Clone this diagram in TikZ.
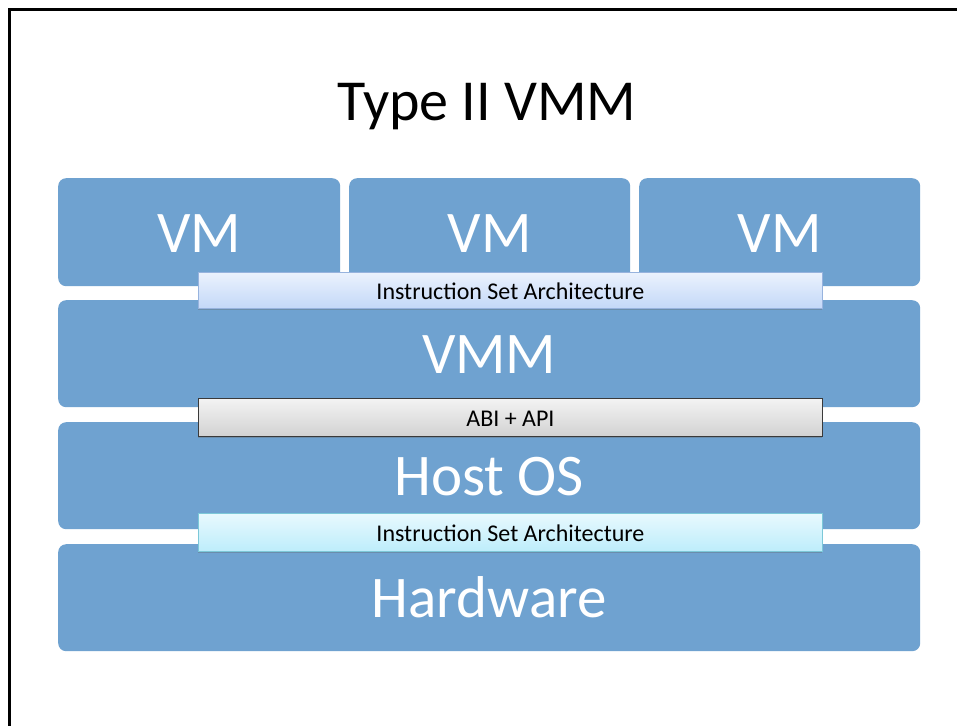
\documentclass[tikz,border=0pt]{standalone}
\usepackage{fontspec}
\setmainfont{Carlito}
\usetikzlibrary{shadows}
\definecolor{boxblue}{HTML}{6FA2D0}
\definecolor{isatop}{HTML}{EBF2FD}
\definecolor{isabot}{HTML}{C3D8F8}
\definecolor{isaline}{HTML}{97B3DE}
\definecolor{abitop}{HTML}{F3F3F3}
\definecolor{abibot}{HTML}{D2D2D2}
\definecolor{abiline}{HTML}{3A3A3A}
\definecolor{cyantop}{HTML}{E8F9FE}
\definecolor{cyanbot}{HTML}{BDEDFB}
\definecolor{cyanline}{HTML}{7CC8D8}
\tikzset{
  layer/.style={fill=boxblue, rounded corners=8pt, anchor=north west, inner sep=0pt,
    text=white, font=\fontsize{59}{64}\selectfont, text height=40pt, text depth=0pt},
  bar/.style={anchor=north west, inner sep=0pt, minimum width=624pt, line width=0.9pt,
    font=\fontsize{24}{28}\selectfont, text height=18pt, text depth=0pt,
    drop shadow={shadow xshift=0pt, shadow yshift=-2pt, opacity=0.35, fill=black!60}},
}
\begin{document}
\begin{tikzpicture}[x=1pt,y=-1pt]
\useasboundingbox (0,0) rectangle (957,725);
\clip (0,0) rectangle (957,725);
\fill[white] (0,0) rectangle (957,725);
\draw[line width=2.8pt] (9.5,9.5) rectangle (990,760);
\node[anchor=base, font=\fontsize{58}{64}\selectfont] (title) at (487,120) {Type II VMM};
% layers
\node[layer, minimum width=282pt, minimum height=108pt] (vm1) at (58,178) {VM};
\node[layer, minimum width=281pt, minimum height=108pt] (vm2) at (349,178) {VM};
\node[layer, minimum width=281pt, minimum height=108pt] (vm3) at (639,178) {VM};
\node[layer, minimum width=862pt, minimum height=107pt] (vmm) at (58,300) {VMM};
\node[layer, minimum width=862pt, minimum height=107pt] (host) at (58,422) {Host OS};
\node[layer, minimum width=862pt, minimum height=107pt] (hw) at (58,544) {Hardware};
% interface bars
\node[bar, minimum height=36pt, draw=isaline, top color=isatop, bottom color=isabot] (isa1) at (198,272) {Instruction Set Architecture};
\node[bar, minimum height=38pt, draw=abiline, top color=abitop, bottom color=abibot] (abi) at (198,398) {ABI + API};
\node[bar, minimum height=38pt, draw=cyanline, top color=cyantop, bottom color=cyanbot] (isa2) at (198,513) {Instruction Set Architecture};
\end{tikzpicture}
\end{document}
